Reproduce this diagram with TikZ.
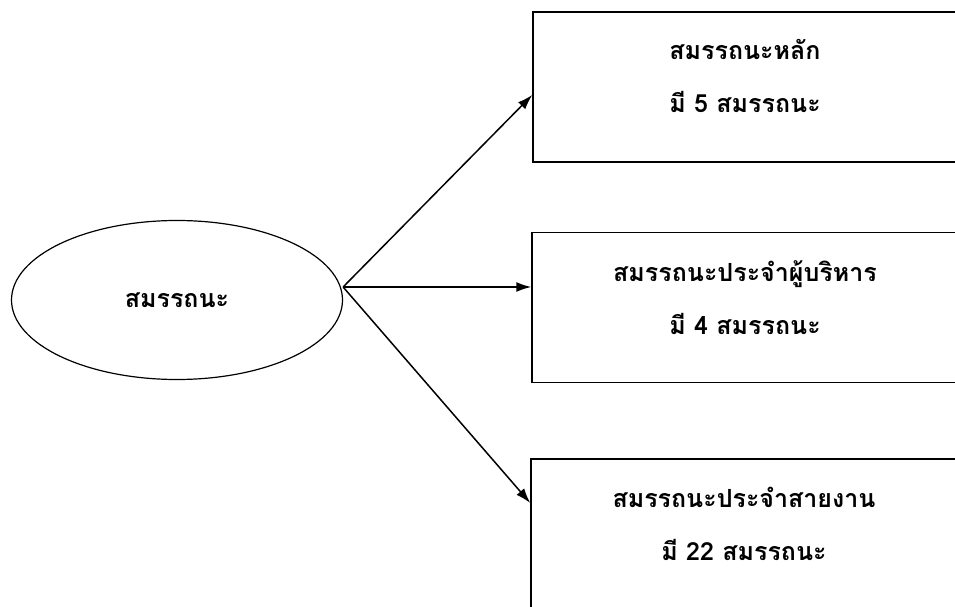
\documentclass[tikz,border=0pt]{standalone}
\usepackage{fontspec}
\newfontfamily\thaifont[Script=Thai]{Loma}
\usetikzlibrary{arrows.meta,shapes.geometric}

\begin{document}
\begin{tikzpicture}[x=1pt,y=1pt]
       \tikzstyle{frame} = [rectangle, draw, line width=1.5pt, minimum width=432pt, minimum height=150pt, inner sep=0pt];
       \tikzstyle{blob} = [ellipse, draw, line width=1.2pt, minimum width=331pt, minimum height=159pt, inner sep=0pt];
       \tikzstyle{thaitext} = [font=\thaifont\bfseries\fontsize{25}{53}\selectfont, align=center];
       \tikzstyle{link} = [line width=1.5pt, -{Latex[length=15pt,width=10pt]}];

       \path[use as bounding box, clip] (0,0) rectangle (955,606);

       % centre
       \node[blob] (comp) at (177,306) {};
       \node[thaitext] (comptext) at (comp.center) {สมรรถนะ};
       \coordinate (hub) at ([yshift=13pt]comp.east);

       % three groups
       \node[frame] (core) at (749,519) {};
       \node[frame] (exec) at (748,298.5) {};
       \node[frame] (line) at (747,72) {};

       \node[thaitext] (coretext) at (745,530) {สมรรถนะหลัก\\มี 5 สมรรถนะ};
       \node[thaitext] (exectext) at (745,308) {สมรรถนะประจำผู้บริหาร\\มี 4 สมรรถนะ};
       \node[thaitext] (linetext) at (744,82) {สมรรถนะประจำสายงาน\\มี 22 สมรรถนะ};

       \draw[link] (hub) -- (core.west |- 0,511);
       \draw[link] (hub) -- (exec.west |- hub);
       \draw[link] (hub) -- (line.west |- 0,103);
\end{tikzpicture}
\end{document}
